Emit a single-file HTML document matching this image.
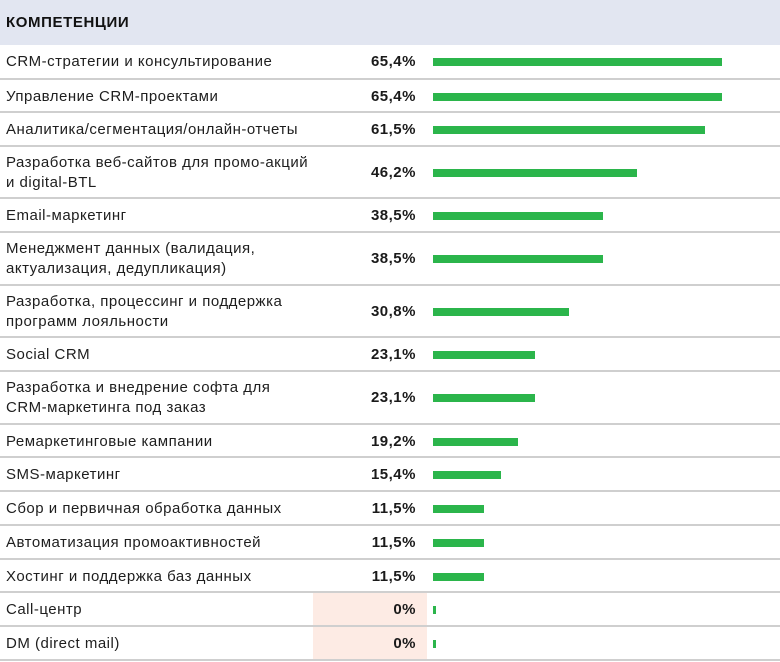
<!DOCTYPE html>
<html><head><meta charset="utf-8">
<style>
html,body{margin:0;padding:0;background:#fff;}
body{width:780px;height:662px;position:relative;overflow:hidden;font-family:"Liberation Sans","DejaVu Sans",sans-serif;color:#1a1a1a;}
.hdr{position:absolute;left:0;top:0;width:780px;height:45px;background:#e2e6f1;}
.hdr span{position:absolute;left:6px;top:14px;font-size:15px;font-weight:bold;letter-spacing:0.6px;color:#111;}
.row{position:absolute;left:0;width:780px;border-bottom:2px solid #cfcfcf;box-sizing:border-box;}
.lbl{position:absolute;left:6px;font-size:15px;letter-spacing:0.5px;line-height:20px;color:#1e1e1e;white-space:nowrap;}
.pct{position:absolute;right:364px;font-size:15px;letter-spacing:0.5px;font-weight:bold;line-height:20px;color:#1a1a1a;}
.bar{position:absolute;left:433px;height:8px;background:#2bb54b;}
.pink{position:absolute;left:313px;width:114px;top:0;bottom:0;background:#fdebe4;}
</style></head><body>
<div class="hdr"><span>КОМПЕТЕНЦИИ</span></div>

<div class="row" style="top:45px;height:34.5px"><div class="lbl" style="top:7px">CRM-стратегии и консультирование</div><div class="pct" style="top:7px">65,4%</div><div class="bar" style="top:13px;width:289px"></div></div>
<div class="row" style="top:79.5px;height:33.5px"><div class="lbl" style="top:7px">Управление CRM-проектами</div><div class="pct" style="top:7px">65,4%</div><div class="bar" style="top:13px;width:289px"></div></div>
<div class="row" style="top:113px;height:33.5px"><div class="lbl" style="top:7px">Аналитика/сегментация/онлайн-отчеты</div><div class="pct" style="top:7px">61,5%</div><div class="bar" style="top:13px;width:272px"></div></div>
<div class="row" style="top:146.5px;height:52.5px"><div class="lbl" style="top:6px">Разработка веб-сайтов для промо-акций<br>и digital-BTL</div><div class="pct" style="top:16px">46,2%</div><div class="bar" style="top:22px;width:204px"></div></div>
<div class="row" style="top:199px;height:33.5px"><div class="lbl" style="top:7px">Email-маркетинг</div><div class="pct" style="top:7px">38,5%</div><div class="bar" style="top:13px;width:170px"></div></div>
<div class="row" style="top:232.5px;height:53px"><div class="lbl" style="top:6px">Менеджмент данных (валидация,<br>актуализация, дедупликация)</div><div class="pct" style="top:16px">38,5%</div><div class="bar" style="top:22px;width:170px"></div></div>
<div class="row" style="top:285.5px;height:52.5px"><div class="lbl" style="top:6px">Разработка, процессинг и поддержка<br>программ лояльности</div><div class="pct" style="top:16px">30,8%</div><div class="bar" style="top:22px;width:136px"></div></div>
<div class="row" style="top:338px;height:34px"><div class="lbl" style="top:7px">Social CRM</div><div class="pct" style="top:7px">23,1%</div><div class="bar" style="top:13px;width:102px"></div></div>
<div class="row" style="top:372px;height:52.5px"><div class="lbl" style="top:6px">Разработка и внедрение софта для<br>CRM-маркетинга под заказ</div><div class="pct" style="top:16px">23,1%</div><div class="bar" style="top:22px;width:102px"></div></div>
<div class="row" style="top:424.5px;height:33.5px"><div class="lbl" style="top:7px">Ремаркетинговые кампании</div><div class="pct" style="top:7px">19,2%</div><div class="bar" style="top:13px;width:85px"></div></div>
<div class="row" style="top:458px;height:34px"><div class="lbl" style="top:7px">SMS-маркетинг</div><div class="pct" style="top:7px">15,4%</div><div class="bar" style="top:13px;width:68px"></div></div>
<div class="row" style="top:492px;height:33.5px"><div class="lbl" style="top:7px">Сбор и первичная обработка данных</div><div class="pct" style="top:7px">11,5%</div><div class="bar" style="top:13px;width:51px"></div></div>
<div class="row" style="top:525.5px;height:34px"><div class="lbl" style="top:7px">Автоматизация промоактивностей</div><div class="pct" style="top:7px">11,5%</div><div class="bar" style="top:13px;width:51px"></div></div>
<div class="row" style="top:559.5px;height:33.5px"><div class="lbl" style="top:7px">Хостинг и поддержка баз данных</div><div class="pct" style="top:7px">11,5%</div><div class="bar" style="top:13px;width:51px"></div></div>
<div class="row" style="top:593px;height:34px"><div class="pink"></div><div class="lbl" style="top:7px">Call-центр</div><div class="pct" style="top:7px">0%</div><div class="bar" style="top:13px;width:3px"></div></div>
<div class="row" style="top:627px;height:34px"><div class="pink"></div><div class="lbl" style="top:7px">DM (direct mail)</div><div class="pct" style="top:7px">0%</div><div class="bar" style="top:13px;width:3px"></div></div>
</body></html>
